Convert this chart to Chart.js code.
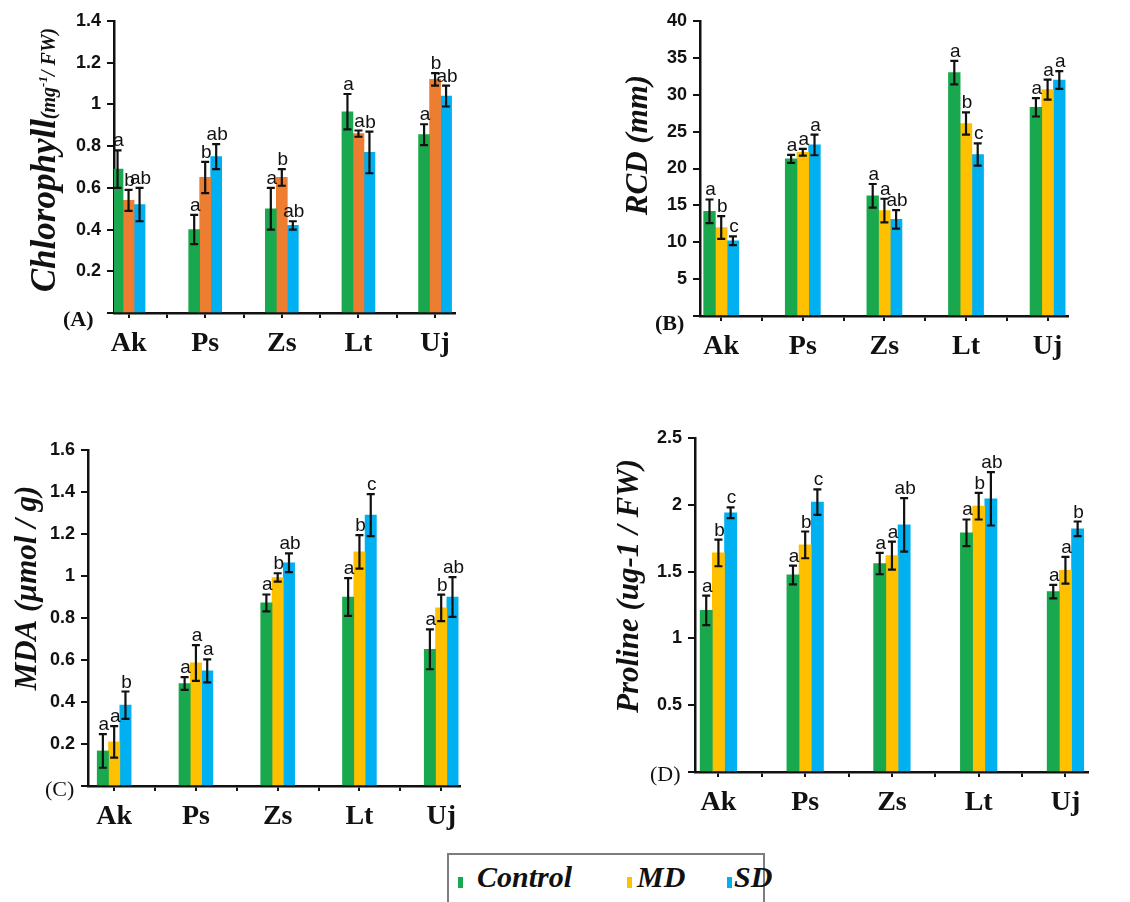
<!DOCTYPE html>
<html>
<head>
<meta charset="utf-8">
<script src="https://cdn.jsdelivr.net/npm/chart.js@4.4.1/dist/chart.umd.min.js"></script>
<style>
  body { margin: 0; background: #fff; }
  #page { position: relative; width: 1130px; height: 902px; overflow: hidden; background: #fff; }
  canvas { position: absolute; }
  #legend { position: absolute; left: 447px; top: 853px; width: 318px; height: 60px; border: 2px solid #7d7d7d; box-sizing: border-box; }
  #legend .mk { position: absolute; top: 22px; width: 5px; height: 11px; }
  #legend .tx { position: absolute; top: 5px; font: italic bold 30px "Liberation Serif", serif; color: #111; }
</style>
</head>
<body>
<div id="page">
  <canvas id="chart-a" width="565" height="380" style="left:0;top:0"></canvas>
  <canvas id="chart-b" width="565" height="380" style="left:565px;top:0"></canvas>
  <canvas id="chart-c" width="565" height="430" style="left:0;top:420px"></canvas>
  <canvas id="chart-d" width="565" height="430" style="left:565px;top:420px"></canvas>
  <div id="legend">
    <span class="mk" style="left:9px;background:#1aa84e"></span><span class="tx" style="left:28px">Control</span>
    <span class="mk" style="left:178px;background:#ffc000"></span><span class="tx" style="left:188px">MD</span>
    <span class="mk" style="left:278px;background:#00b0f0"></span><span class="tx" style="left:285px">SD</span>
  </div>
</div>
<script>
const categories = ['Ak', 'Ps', 'Zs', 'Lt', 'Uj'];
const seriesNames = ['Control', 'MD', 'SD'];

// (A) chlorophyll
const chlControl = [0.69, 0.40, 0.50, 0.965, 0.855];
const chlMD = [0.54, 0.65, 0.65, 0.86, 1.12];
const chlSD = [0.52, 0.75, 0.42, 0.77, 1.04];
const chlControlErr = [0.09, 0.07, 0.10, 0.085, 0.05];
const chlMDErr = [0.05, 0.075, 0.04, 0.015, 0.03];
const chlSDErr = [0.08, 0.06, 0.02, 0.10, 0.05];
const chlControlSig = ['a', 'a', 'a', 'a', 'a'];
const chlMDSig = ['b', 'b', 'b', 'a', 'b'];
const chlSDSig = ['ab', 'ab', 'ab', 'b', 'ab'];

// (B) RCD
const rcdControl = [14.2, 21.3, 16.3, 33.0, 28.3];
const rcdMD = [12.0, 22.2, 14.3, 26.1, 30.7];
const rcdSD = [10.2, 23.2, 13.1, 21.9, 32.0];
const rcdControlErr = [1.6, 0.55, 1.6, 1.6, 1.25];
const rcdMDErr = [1.55, 0.45, 1.6, 1.5, 1.35];
const rcdSDErr = [0.6, 1.4, 1.25, 1.5, 1.2];
const rcdControlSig = ['a', 'a', 'a', 'a', 'a'];
const rcdMDSig = ['b', 'a', 'a', 'b', 'a'];
const rcdSDSig = ['c', 'a', 'ab', 'c', 'a'];

// (C) MDA
const mdaControl = [0.167, 0.488, 0.872, 0.90, 0.651];
const mdaMD = [0.21, 0.586, 0.993, 1.115, 0.848];
const mdaSD = [0.385, 0.548, 1.063, 1.29, 0.90];
const mdaControlErr = [0.08, 0.03, 0.04, 0.09, 0.095];
const mdaMDErr = [0.075, 0.085, 0.02, 0.08, 0.063];
const mdaSDErr = [0.065, 0.055, 0.045, 0.10, 0.095];
const mdaControlSig = ['a', 'a', 'a', 'a', 'a'];
const mdaMDSig = ['a', 'a', 'b', 'b', 'b'];
const mdaSDSig = ['b', 'a', 'ab', 'c', 'ab'];

// (D) proline
const proControl = [1.21, 1.475, 1.56, 1.79, 1.35];
const proMD = [1.64, 1.70, 1.62, 1.99, 1.51];
const proSD = [1.94, 2.02, 1.85, 2.045, 1.82];
const proControlErr = [0.11, 0.07, 0.08, 0.10, 0.05];
const proMDErr = [0.10, 0.10, 0.105, 0.10, 0.10];
const proSDErr = [0.04, 0.095, 0.20, 0.20, 0.055];
const proControlSig = ['a', 'a', 'a', 'a', 'a'];
const proMDSig = ['b', 'b', 'a', 'b', 'a'];
const proSDSig = ['c', 'c', 'ab', 'ab', 'b'];

const GREEN = '#1aa84e', ORANGE = '#ed7d31', GOLD = '#ffc000', BLUE = '#00b0f0';
const INK = '#111';
const SERIF = '"Liberation Serif", "Times New Roman", serif';
const SANS = '"Liberation Sans", Arial, sans-serif';

// error bars + significance letters
const errorBars = {
    id: 'errorBars',
    afterDatasetsDraw(chart) {
        const ctx = chart.ctx;
        const yScale = chart.scales.y;
        ctx.save();
        chart.data.datasets.forEach((ds, di) => {
            const meta = chart.getDatasetMeta(di);
            meta.data.forEach((bar, i) => {
                const v = ds.data[i].y, e = ds.err[i];
                const top = yScale.getPixelForValue(v + e);
                const bot = yScale.getPixelForValue(v - e);
                ctx.strokeStyle = INK;
                ctx.lineWidth = 2.2;
                ctx.beginPath();
                ctx.moveTo(bar.x, top); ctx.lineTo(bar.x, bot);
                ctx.moveTo(bar.x - 4, top); ctx.lineTo(bar.x + 4, top);
                ctx.moveTo(bar.x - 4, bot); ctx.lineTo(bar.x + 4, bot);
                ctx.stroke();
                ctx.fillStyle = INK;
                ctx.font = '19px ' + SANS;
                ctx.textAlign = 'center';
                ctx.textBaseline = 'alphabetic';
                ctx.fillText(ds.sig[i], bar.x + 1, top - 4);
            });
        });
        ctx.restore();
    }
};

// rotated y title with mixed fonts and the panel letter
const panelText = {
    id: 'panelText',
    afterDraw(chart, args, opts) {
        const ctx = chart.ctx;
        ctx.save();
        ctx.fillStyle = INK;
        ctx.textBaseline = 'alphabetic';
        ctx.textAlign = 'left';
        ctx.translate(opts.titleX, opts.titleY);
        ctx.rotate(-Math.PI / 2);
        let total = 0;
        opts.runs.forEach(r => { ctx.font = r.font; total += ctx.measureText(r.text).width; });
        let x = -total / 2;
        opts.runs.forEach(r => {
            ctx.font = r.font;
            ctx.fillText(r.text, x, r.dy || 0);
            x += ctx.measureText(r.text).width;
        });
        ctx.restore();

        ctx.save();
        ctx.fillStyle = INK;
        ctx.font = opts.labelFont;
        ctx.textAlign = 'left';
        ctx.fillText(opts.label, opts.labelX, opts.labelY);
        ctx.restore();
    }
};

function makePanel(id, p) {
    const colors = [GREEN, p.midColor, BLUE];
    const datasets = p.values.map((vals, s) => ({
        label: seriesNames[s],
        data: vals.map((v, i) => ({ x: i, y: v })),
        err: p.errs[s],
        sig: p.sigs[s],
        backgroundColor: colors[s],
        borderWidth: 0,
        barThickness: p.barW
    }));

    new Chart(document.getElementById(id), {
        type: 'bar',
        data: { datasets: datasets },
        options: {
            responsive: false,
            animation: false,
            layout: { padding: p.pad },
            plugins: {
                legend: { display: false },
                tooltip: { enabled: false },
                panelText: p.text
            },
            scales: {
                x: {
                    type: 'linear',
                    min: p.xMin, max: p.xMax,
                    offset: false,
                    afterBuildTicks: s => {
                        const t = [];
                        for (let v = 0; v <= categories.length - 1; v += 0.5) t.push({ value: v });
                        s.ticks = t;
                    },
                    afterFit: s => { s.height = 45; },
                    ticks: {
                        autoSkip: false, maxRotation: 0, padding: 9,
                        color: INK,
                        font: { family: SERIF, weight: 'bold', size: 28 },
                        callback: v => Number.isInteger(v) ? categories[v] : ''
                    },
                    grid: { offset: false, drawOnChartArea: false, drawTicks: true, tickLength: 5, color: INK, lineWidth: 2 },
                    border: { color: INK, width: 2.5 }
                },
                y: {
                    min: 0, max: p.yMax,
                    afterFit: s => { s.width = p.yAxisW; },
                    ticks: {
                        stepSize: p.step, padding: 6, color: INK,
                        font: { family: SANS, weight: 'bold', size: 18 },
                        callback: v => v === 0 ? '' : String(+v.toFixed(1))
                    },
                    grid: { drawOnChartArea: false, drawTicks: true, tickLength: 7, color: INK, lineWidth: 2 },
                    border: { color: INK, width: 2.5 }
                }
            }
        },
        plugins: [errorBars, panelText]
    });
}

const bigTitle = 'italic bold 31px ' + SERIF;

makePanel('chart-a', {
    values: [chlControl, chlMD, chlSD],
    errs: [chlControlErr, chlMDErr, chlSDErr],
    sigs: [chlControlSig, chlMDSig, chlSDSig],
    midColor: ORANGE,
    yMax: 1.4, step: 0.2,
    xMin: -0.19, xMax: 4.26,
    barW: 11,
    yAxisW: 114,
    pad: { left: 0, top: 21, right: 110, bottom: 22 },
    text: {
        titleX: 55, titleY: 160,
        runs: [
            { text: 'Chlorophyll', font: 'italic bold 35px ' + SERIF },
            { text: '(mg', font: 'italic bold 20px ' + SERIF },
            { text: '-1', font: 'italic bold 13px ' + SERIF, dy: -8 },
            { text: '/ FW)', font: 'italic bold 20px ' + SERIF }
        ],
        label: '(A)', labelFont: 'bold 22px ' + SERIF, labelX: 63, labelY: 326
    }
});

makePanel('chart-b', {
    values: [rcdControl, rcdMD, rcdSD],
    errs: [rcdControlErr, rcdMDErr, rcdSDErr],
    sigs: [rcdControlSig, rcdMDSig, rcdSDSig],
    midColor: GOLD,
    yMax: 40, step: 5,
    xMin: -0.26, xMax: 4.25,
    barW: 11.7,
    yAxisW: 135,
    pad: { left: 0, top: 21, right: 62, bottom: 19 },
    text: {
        titleX: 82, titleY: 145,
        runs: [{ text: 'RCD (mm)', font: bigTitle }],
        label: '(B)', labelFont: 'bold 22px ' + SERIF, labelX: 90, labelY: 330
    }
});

makePanel('chart-c', {
    values: [mdaControl, mdaMD, mdaSD],
    errs: [mdaControlErr, mdaMDErr, mdaSDErr],
    sigs: [mdaControlSig, mdaMDSig, mdaSDSig],
    midColor: GOLD,
    yMax: 1.6, step: 0.2,
    xMin: -0.32, xMax: 4.23,
    barW: 11.3,
    yAxisW: 88,
    pad: { left: 0, top: 30, right: 105, bottom: 19 },
    text: {
        titleX: 36, titleY: 168,
        runs: [{ text: 'MDA (\u00b5mol / g)', font: bigTitle }],
        label: '(C)', labelFont: '22px ' + SERIF, labelX: 45, labelY: 376
    }
});

makePanel('chart-d', {
    values: [proControl, proMD, proSD],
    errs: [proControlErr, proMDErr, proSDErr],
    sigs: [proControlSig, proMDSig, proSDSig],
    midColor: GOLD,
    yMax: 2.5, step: 0.5,
    xMin: -0.27, xMax: 4.26,
    barW: 12.2,
    yAxisW: 130,
    pad: { left: 0, top: 18, right: 42, bottom: 33 },
    text: {
        titleX: 73, titleY: 166,
        runs: [{ text: 'Proline (ug-1 / FW)', font: bigTitle }],
        label: '(D)', labelFont: '22px ' + SERIF, labelX: 85, labelY: 361
    }
});
</script>
</body>
</html>
